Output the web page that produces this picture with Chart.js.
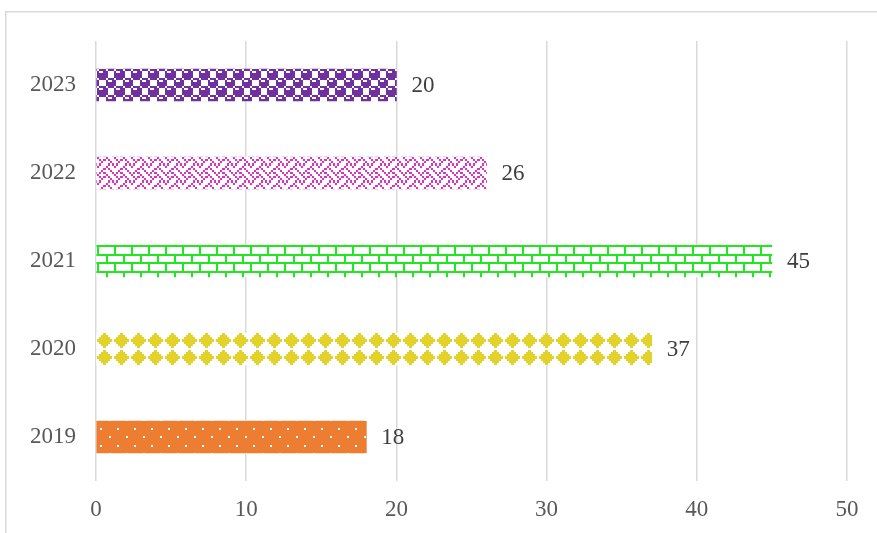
<!DOCTYPE html>
<html>
<head>
<meta charset="utf-8">
<script src="https://cdn.jsdelivr.net/npm/chart.js@4/dist/chart.umd.min.js"></script>
<style>
  html, body { margin: 0; padding: 0; background: #fff; }
  #wrap { width: 877px; height: 533px; position: relative; }
</style>
</head>
<body>
<div id="wrap"><canvas id="c" width="877" height="533"></canvas></div>
<script>
// Years (top to bottom) and their values
const years = ['2023', '2022', '2021', '2020', '2019'];
const values = [20, 26, 45, 37, 18];
const xTicks = [0, 10, 20, 30, 40, 50];

// 8x8 hatch bitmaps ('1' = foreground pixel)
const sphereBits  = ['01110111', '10011000', '11111000', '11111000', '01110111', '10001001', '10001111', '10001111'];
const weaveBits   = ['10001000', '01010100', '00100010', '01000101', '10001000', '00010100', '00100010', '01010001'];
const brickBits   = ['11111111', '10000000', '10000000', '10000000', '11111111', '00001000', '00001000', '00001000'];
const diamondBits = ['00010000', '00111000', '01111100', '11111110', '01111100', '00111000', '00010000', '00000000'];

const TILE = 17;
const ctxMain = document.getElementById('c').getContext('2d');

function bitPattern(bits, fg, bg) {
  const t = document.createElement('canvas');
  t.width = TILE; t.height = TILE;
  const g = t.getContext('2d');
  g.fillStyle = bg; g.fillRect(0, 0, TILE, TILE);
  g.fillStyle = fg;
  const edges = [0, 2, 4, 6, 9, 11, 13, 15, 17];
  bits.forEach((row, r) => {
    for (let c = 0; c < 8; c++) {
      if (row[c] === '1') {
        g.fillRect(edges[c], edges[r], edges[c + 1] - edges[c], edges[r + 1] - edges[r]);
      }
    }
  });
  return ctxMain.createPattern(t, 'repeat');
}

function dotPattern(fg, bg) {
  const t = document.createElement('canvas');
  t.width = TILE; t.height = TILE;
  const g = t.getContext('2d');
  g.fillStyle = bg; g.fillRect(0, 0, TILE, TILE);
  g.fillStyle = fg;
  g.fillRect(3, 7, 2, 2);
  g.fillRect(12, 15, 2, 2);
  return ctxMain.createPattern(t, 'repeat');
}

// Fill patterns, one per bar
const fills = [
  bitPattern(sphereBits, '#7030A0', '#ffffff'),
  bitPattern(weaveBits, '#DC32C4', '#ffffff'),
  bitPattern(brickBits, '#22E622', '#ffffff'),
  bitPattern(diamondBits, '#E2D22A', '#ffffff'),
  dotPattern('#ffffff', '#ED7D31')
];

const textColor = '#595959';
const fontFamily = '"Liberation Serif", "Times New Roman", serif';
const fontSize = 23;

// Outer frame of the chart area
const framePlugin = {
  id: 'frame',
  beforeDraw(chart) {
    const ctx = chart.ctx;
    ctx.save();
    ctx.strokeStyle = '#D9D9D9';
    ctx.lineWidth = 1.5;
    ctx.strokeRect(5.75, 11.75, 1200, 1200);
    ctx.restore();
  }
};

// Anchor each bar's pattern to the bar's own top-left corner
const patternAnchor = {
  id: 'patternAnchor',
  beforeDatasetsDraw(chart) {
    const meta = chart.getDatasetMeta(0);
    meta.data.forEach((bar, i) => {
      const top = Math.round(bar.y - bar.height / 2);
      const left = Math.round(bar.base);
      fills[i].setTransform(new DOMMatrix([1, 0, 0, 1, left, top]));
    });
  }
};

// Value labels to the right of each bar
const valueLabels = {
  id: 'valueLabels',
  afterDatasetsDraw(chart) {
    const ctx = chart.ctx;
    const meta = chart.getDatasetMeta(0);
    ctx.save();
    ctx.font = fontSize + 'px ' + fontFamily;
    ctx.fillStyle = '#404040';
    ctx.textAlign = 'left';
    ctx.textBaseline = 'middle';
    meta.data.forEach((bar, i) => {
      ctx.fillText(String(values[i]), bar.x + 15, bar.y + 1);
    });
    ctx.restore();
  }
};

new Chart(document.getElementById('c'), {
  type: 'bar',
  data: {
    labels: years,
    datasets: [{
      data: values,
      backgroundColor: fills,
      borderWidth: 0,
      barThickness: 32
    }]
  },
  options: {
    indexAxis: 'y',
    responsive: false,
    animation: false,
    layout: { padding: { top: 41, right: 30, left: 0, bottom: 0 } },
    plugins: {
      legend: { display: false },
      tooltip: { enabled: false }
    },
    scales: {
      x: {
        min: 0,
        max: 50,
        afterBuildTicks(axis) {
          axis.ticks = xTicks.map(v => ({ value: v }));
        },
        grid: { color: '#D9D9D9', lineWidth: 1.5, drawTicks: false },
        border: { display: false },
        ticks: {
          color: textColor,
          font: { family: fontFamily, size: fontSize },
          padding: 15
        },
        afterFit(axis) { axis.height = 52; }
      },
      y: {
        grid: { display: false, drawTicks: false },
        border: { display: false },
        ticks: {
          color: textColor,
          font: { family: fontFamily, size: fontSize },
          padding: 20
        },
        afterFit(axis) { axis.width = 96; }
      }
    }
  },
  plugins: [framePlugin, patternAnchor, valueLabels]
});
</script>
</body>
</html>
